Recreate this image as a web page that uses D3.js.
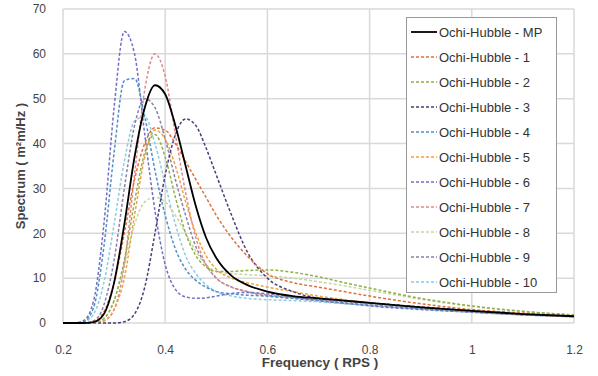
<!DOCTYPE html>
<html><head><meta charset="utf-8">
<script src="https://cdn.jsdelivr.net/npm/d3@7"></script>
<style>body{margin:0;background:#fff}svg{display:block}</style>
</head><body><svg id="c" width="598" height="376"></svg>
<script>
const freq = [0.2,0.22,0.24,0.26,0.28,0.30,0.32,0.34,0.36,0.38,0.40,0.42,0.44,0.46,0.48,0.50,0.53,0.56,0.60,0.65,0.70,0.75,0.80,0.90,1.0,1.1,1.2];
const seriesNames = ["Ochi-Hubble - MP","Ochi-Hubble - 1","Ochi-Hubble - 2","Ochi-Hubble - 3","Ochi-Hubble - 4","Ochi-Hubble - 5","Ochi-Hubble - 6","Ochi-Hubble - 7","Ochi-Hubble - 8","Ochi-Hubble - 9","Ochi-Hubble - 10"];
const sMP = [0,0,0,0.2,2,9,22,37,48,53,51,44,35,26,19,14.5,10.5,8.5,7,6,5.5,5,4.5,3.5,2.7,2,1.5];
const s1  = [0,0,0,0.3,2.5,9,20,32,40,43.5,43,40,36,32,28,24,19,15,11,9,8,7,6,4.3,3,2.2,1.5];
const s2  = [0,0,0,0,1,5,14,27,38,42,37,28,20,15,12.5,11.5,11.5,11.7,11.8,11.3,10.3,9,7.8,5.5,3.8,2.6,1.8];
const s3  = [0,0,0,0,0,0,0.3,2,8,20,33,42,45.5,44,39,33,24,16,10,7,5.5,5,4.5,3.6,2.8,2.1,1.6];
const s4  = [0,0,0.3,3.5,17,38,54,54.5,46,34,24,16.5,12,9.5,8,7,6.5,6.2,6,5.5,5,4.5,4,3.2,2.5,1.9,1.5];
const s5  = [0,0,0,0,0.5,3,10,24,37,43,41,35,27,20,15,12,10,9,8,7,6,5.2,4.5,3.4,2.5,1.9,1.4];
const s6  = [0,0,0.5,5,22,48,65,60,42,25,13,7.5,5.8,5.5,5.6,6,6.6,6.8,6.5,5.8,5,4.4,3.8,3,2.4,1.8,1.4];
const s7  = [0,0,0,0,0.5,3,13,33,52,60,55,42,29,19,13,10,8,7,6,5.5,5,4.5,4,3.2,2.5,1.9,1.5];
const s8  = [0,0,0,0,1,5,13,22,27,28,27,24,20,16,13,11.5,11,10.8,10.5,10,9.2,8.3,7.3,5.3,3.7,2.6,1.8];
const s9  = [0,0,0,0.5,4,14,30,44,50,48,41,32,24,17,13,10,8,7,6.2,5.7,5.2,4.8,4.4,3.5,2.7,2,1.5];
const s10 = [0,0,0.2,2,9,22,36,45,46,40,31,22,15,11,8.5,7,6,5.5,5.2,5,4.7,4.3,3.9,3.1,2.4,1.8,1.4];
const xTicks = [0.2,0.4,0.6,0.8,1,1.2];
const yTicks = [0,10,20,30,40,50,60,70];

const allSeries = [sMP,s1,s2,s3,s4,s5,s6,s7,s8,s9,s10];
const colors = ["#000000","#e0703a","#8fb04a","#4a3d78","#4f8fc8","#f0a040","#6f6fc8","#e08a8a","#c7d89a","#8a80a8","#8ccbe0"];

const svg = d3.select("#c");
const L=63,R=574,T=9,B=323;
const x = d3.scaleLinear().domain([0.2,1.2]).range([L,R]);
const y = d3.scaleLinear().domain([0,70]).range([B,T]);
const font = "Arial, 'Liberation Sans', sans-serif";

// grid
svg.append("g").selectAll("line").data(yTicks).join("line")
  .attr("x1",L).attr("x2",R).attr("y1",d=>y(d)).attr("y2",d=>y(d))
  .attr("stroke","#d9d9d9").attr("stroke-width",1.5);
svg.append("g").selectAll("line").data(xTicks).join("line")
  .attr("y1",T).attr("y2",B).attr("x1",d=>x(d)).attr("x2",d=>x(d))
  .attr("stroke","#d9d9d9").attr("stroke-width",1.5);

// axes
const xa = svg.append("g").attr("transform",`translate(0,${B})`)
  .call(d3.axisBottom(x).tickValues(xTicks).tickFormat(d=>d).tickSize(0).tickPadding(22));
const ya = svg.append("g").attr("transform",`translate(${L},0)`)
  .call(d3.axisLeft(y).tickValues(yTicks).tickSize(0).tickPadding(17));
[xa,ya].forEach(a=>{
  a.select(".domain").remove();
  a.selectAll("text").attr("font-family",font).attr("font-size",12).attr("fill","#444");
});

// lines
const line = d3.line().x((d,i)=>x(freq[i])).y(d=>y(d)).curve(d3.curveMonotoneX);
const order = [10,9,8,7,6,5,4,3,2,1,0];
svg.append("g").selectAll("path").data(order).join("path")
  .attr("d",k=>line(allSeries[k]))
  .attr("fill","none").attr("stroke",k=>colors[k])
  .attr("stroke-width",k=>k===0?1.8:1.5)
  .attr("stroke-dasharray",k=>k===0?null:"3,2");

// axis titles
svg.append("text").attr("x",320).attr("y",367).attr("text-anchor","middle")
  .attr("font-family",font).attr("font-size",13.5).attr("font-weight","bold").attr("fill","#444")
  .text("Frequency ( RPS )");
svg.append("text").attr("transform","translate(25,166) rotate(-90)").attr("text-anchor","middle")
  .attr("font-family",font).attr("font-size",13).attr("font-weight","bold").attr("fill","#444")
  .text("Spectrum ( m²m/Hz )");

// legend
const lg = svg.append("g");
lg.append("rect").attr("x",406.5).attr("y",17.5).attr("width",150).attr("height",275)
  .attr("fill","#fff").attr("stroke","#999");
const items = lg.selectAll("g.it").data(seriesNames).join("g").attr("class","it")
  .attr("transform",(d,i)=>`translate(0,${32+i*25})`);
items.append("line").attr("x1",411).attr("x2",437).attr("y1",0).attr("y2",0)
  .attr("stroke",(d,i)=>colors[i]).attr("stroke-width",(d,i)=>i===0?1.8:1.5)
  .attr("stroke-dasharray",(d,i)=>i===0?null:"3,2");
items.append("text").attr("x",439).attr("y",4.5).attr("font-family",font).attr("font-size",13)
  .attr("fill","#333").text(d=>d);
</script></body></html>
